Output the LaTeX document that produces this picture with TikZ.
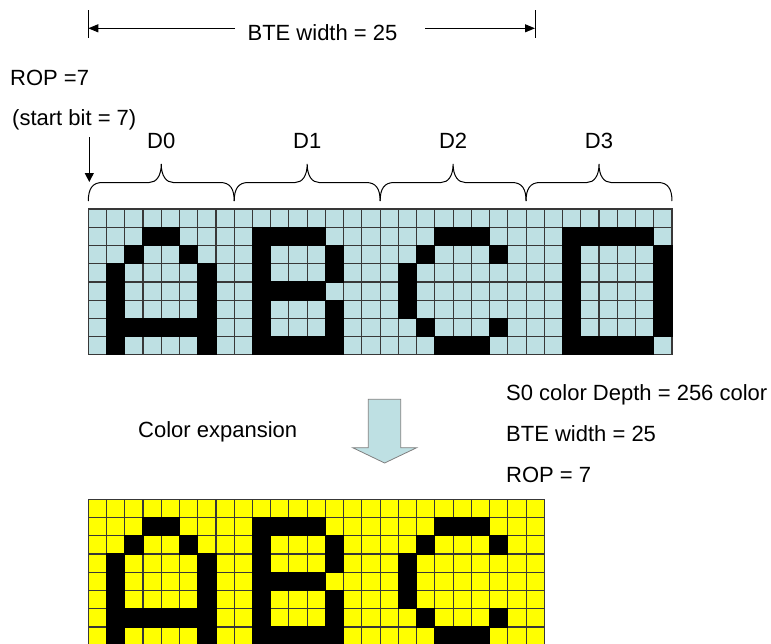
\documentclass[tikz,border=0pt]{standalone}
\usepackage{fontspec}
\setmainfont{Liberation Sans}
\usetikzlibrary{arrows.meta}
\definecolor{cellblue}{HTML}{BEE0E3}
\definecolor{cellyel}{HTML}{FFFF00}
\definecolor{gridline}{HTML}{383838}
\begin{document}
\begin{tikzpicture}[x=1pt,y=-1pt,
  lbl/.style={inner sep=0pt, font=\fontsize{22}{26}\selectfont},
  bluecell/.style={fill=cellblue, draw=gridline, line width=1.1pt},
  yelcell/.style={fill=cellyel, draw=gridline, line width=1.1pt},
  blackcell/.style={fill=black, draw=black, line width=1.1pt},
  conn/.style={line width=1pt, draw=black},
  tip/.style={-{Triangle[length=10pt,width=8pt]}},
  dtip/.style={-{Triangle[length=9pt,width=9pt]}},
  bigarrow/.style={fill=cellblue, draw=gray, line width=0.8pt},
]
\useasboundingbox (0,0) rectangle (771,643);
\def\cellsz{18.24}
\def\gx{88.3}
\def\gya{209}
\def\gyb{499.3}
% ---------- top grid ----------
\foreach \i in {0,...,31}{
  \foreach \j in {0,...,7}{
    \draw[bluecell] ({\gx+\i*\cellsz},{\gya+\j*\cellsz}) rectangle ++(\cellsz,\cellsz);
  }
}
\foreach \r/\cols in {1/{3,4,9,10,11,12,19,20,21,26,27,28,29,30},
                      2/{2,5,9,13,18,22,26,31},
                      3/{1,6,9,13,17,26,31},
                      4/{1,6,9,10,11,12,17,26,31},
                      5/{1,6,9,13,17,26,31},
                      6/{1,2,3,4,5,6,9,13,18,22,26,31},
                      7/{1,6,9,10,11,12,13,19,20,21,26,27,28,29,30}}{
  \foreach \c in \cols {
    \draw[blackcell] ({\gx+\c*\cellsz},{\gya+\r*\cellsz}) rectangle ++(\cellsz,\cellsz);
  }
}
% ---------- bottom grid ----------
\foreach \i in {0,...,24}{
  \foreach \j in {0,...,7}{
    \draw[yelcell] ({\gx+\i*\cellsz},{\gyb+\j*\cellsz}) rectangle ++(\cellsz,\cellsz);
  }
}
\foreach \r/\cols in {1/{3,4,9,10,11,12,19,20,21},
                      2/{2,5,9,13,18,22},
                      3/{1,6,9,13,17},
                      4/{1,6,9,10,11,12,17},
                      5/{1,6,9,13,17},
                      6/{1,2,3,4,5,6,9,13,18,22},
                      7/{1,6,9,10,11,12,13,19,20,21}}{
  \foreach \c in \cols {
    \draw[blackcell] ({\gx+\c*\cellsz},{\gyb+\r*\cellsz}) rectangle ++(\cellsz,\cellsz);
  }
}
% ---------- braces and D labels ----------
\foreach \k/\lab in {0/D0,1/D1,2/D2,3/D3}{
  \pgfmathsetmacro\xl{\gx+\k*8*\cellsz}
  \pgfmathsetmacro\xr{\xl+8*\cellsz}
  \pgfmathsetmacro\xm{\xl+4*\cellsz}
  \draw[conn] (\xl,201) .. controls (\xl,189) and (\xl+4,182.5) .. (\xl+14,182.5)
     -- (\xm-12,182.5) .. controls (\xm-5,182.5) and (\xm,176) .. (\xm,164)
     .. controls (\xm,176) and (\xm+5,182.5) .. (\xm+12,182.5)
     -- (\xr-14,182.5) .. controls (\xr-4,182.5) and (\xr,189) .. (\xr,201);
  \node[lbl, anchor=base] (d\k) at (\xm,148) {\lab};
}
% ---------- top dimension arrow ----------
\coordinate (tl) at (88.3,28.3);
\coordinate (tr) at (535,28.3);
\coordinate (la) at (235,28.3);
\coordinate (ra) at (425,28.3);
\draw[conn] (88.3,10) -- (88.3,38);
\draw[conn] (535,10) -- (535,38);
\draw[conn,tip] (la) -- (tl);
\draw[conn,tip] (ra) -- (tr);
\node[lbl, anchor=base] (bte) at (322.5,40) {BTE width = 25};
% ---------- labels left ----------
\node[lbl, anchor=base west] (rop) at (10,85) {ROP =7};
\node[lbl, anchor=base west] (sb) at (12,125) {(start bit = 7)};
\coordinate (da0) at (89.3,137);
\coordinate (da1) at (89.3,182);
\draw[conn,dtip] (da0) -- (da1);
% ---------- block arrow ----------
\draw[bigarrow] (368.3,399.3) -- (400.7,399.3) -- (400.7,447.7) -- (416.7,447.7)
   -- (384.6,463) -- (352.7,447.7) -- (368.3,447.7) -- cycle;
\node[lbl, anchor=base west] (ce) at (138,437) {Color expansion};
% ---------- right texts ----------
\node[lbl, anchor=base west] (s0) at (506,400) {S0 color Depth = 256 color};
\node[lbl, anchor=base west] (bw) at (506,441) {BTE width = 25};
\node[lbl, anchor=base west] (rp) at (506,482) {ROP = 7};
\end{tikzpicture}
\end{document}
